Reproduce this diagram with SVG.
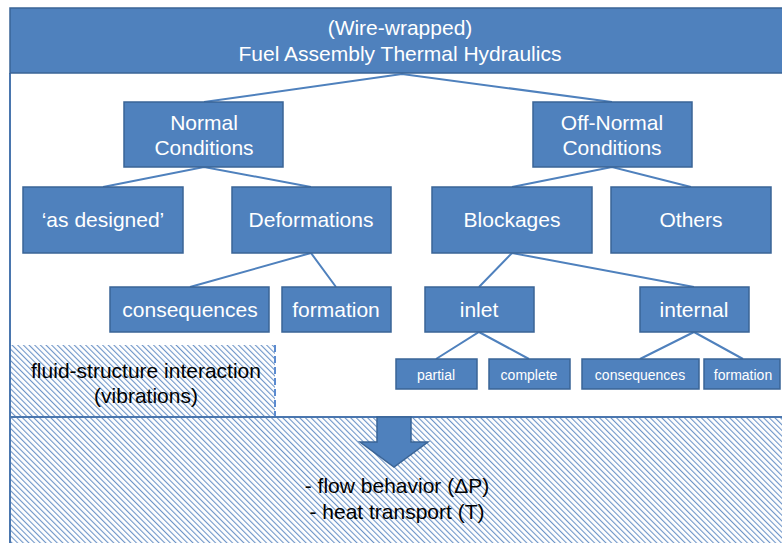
<svg xmlns="http://www.w3.org/2000/svg" width="782" height="543" viewBox="0 0 782 543">
<defs>
<pattern id="hatch" patternUnits="userSpaceOnUse" width="4" height="4" patternTransform="rotate(-45)">
<rect width="4" height="4" fill="#ffffff"/>
<line x1="0" y1="0" x2="0" y2="4" stroke="#6E95C8" stroke-width="2.2"/>
</pattern>
</defs>
<style>
.box{fill:#4F81BD;stroke:#3A6496;stroke-width:1.5}
.t{font-family:"Liberation Sans",Arial,sans-serif;fill:#ffffff;text-anchor:middle;font-size:21px}
.s{font-size:14px}
.k{font-family:"Liberation Sans",Arial,sans-serif;fill:#000000;text-anchor:middle;font-size:21px}
.c{stroke:#4F81BD;stroke-width:2;fill:none}
</style>
<rect width="782" height="543" fill="#ffffff"/>
<g id="background">
<rect x="10" y="345" width="265" height="72" fill="url(#hatch)"/>
<line x1="275" y1="345" x2="275" y2="417" stroke="#5B8BD0" stroke-width="2" stroke-dasharray="7,4"/>
<rect x="10" y="417" width="790" height="140" fill="url(#hatch)"/>
<line x1="10" y1="417" x2="790" y2="417" stroke="#4A76AE" stroke-width="2"/>
<line x1="10" y1="73" x2="10" y2="543" stroke="#4A76AE" stroke-width="2"/>
</g>
<g id="connectors">
<polyline class="c" points="204,102 402,74 612,102"/>
<polyline class="c" points="103,187 204,167 311,187"/>
<polyline class="c" points="512,187 612,167 691,187"/>
<polyline class="c" points="190,287 311,253 336,287"/>
<polyline class="c" points="479,287 512,253 694,287"/>
<polyline class="c" points="436,359 479,332 529,359"/>
<polyline class="c" points="640,359 694,332 743,359"/>
</g>
<g id="title">
<rect class="box" x="10" y="8" width="790" height="65"/>
<text class="t" x="400" y="35">(Wire-wrapped)</text>
<text class="t" x="400" y="61">Fuel Assembly Thermal Hydraulics</text>
</g>
<g id="normal">
<rect class="box" x="124" y="102" width="159" height="65"/>
<text class="t" x="204" y="130">Normal</text>
<text class="t" x="204" y="155">Conditions</text>
</g>
<g id="offnormal">
<rect class="box" x="533" y="102" width="159" height="65"/>
<text class="t" x="612" y="130">Off-Normal</text>
<text class="t" x="612" y="155">Conditions</text>
</g>
<g id="asdesigned">
<rect class="box" x="23" y="187" width="160" height="66"/>
<text class="t" x="103" y="227">‘as designed’</text>
</g>
<g id="deformations">
<rect class="box" x="232" y="187" width="159" height="66"/>
<text class="t" x="311" y="227">Deformations</text>
</g>
<g id="blockages">
<rect class="box" x="432" y="187" width="160" height="66"/>
<text class="t" x="512" y="227">Blockages</text>
</g>
<g id="others">
<rect class="box" x="611" y="187" width="160" height="66"/>
<text class="t" x="691" y="227">Others</text>
</g>
<g id="consequences">
<rect class="box" x="110" y="287" width="159" height="45"/>
<text class="t" x="190" y="317">consequences</text>
</g>
<g id="formation">
<rect class="box" x="282" y="287" width="109" height="45"/>
<text class="t" x="336" y="317">formation</text>
</g>
<g id="inlet">
<rect class="box" x="425" y="287" width="109" height="45"/>
<text class="t" x="479" y="317">inlet</text>
</g>
<g id="internal">
<rect class="box" x="640" y="287" width="109" height="45"/>
<text class="t" x="694" y="317">internal</text>
</g>
<g id="partial">
<rect class="box" x="396" y="359" width="81" height="30"/>
<text class="t s" x="436" y="380">partial</text>
</g>
<g id="complete">
<rect class="box" x="489" y="359" width="81" height="30"/>
<text class="t s" x="529" y="380">complete</text>
</g>
<g id="consequences2">
<rect class="box" x="582" y="359" width="117" height="30"/>
<text class="t s" x="640" y="380">consequences</text>
</g>
<g id="formation2">
<rect class="box" x="704" y="359" width="76" height="30"/>
<text class="t s" x="743" y="380">formation</text>
</g>
<g id="fsi">
<text class="k" x="146" y="378">fluid-structure interaction</text>
<text class="k" x="146" y="403">(vibrations)</text>
</g>
<g id="arrow">
<polygon points="377,417 411,417 411,442 428,442 394,467 360,442 377,442" fill="#4F81BD" stroke="#3A6496" stroke-width="1.5"/>
</g>
<g id="result">
<text class="k" x="397" y="493">- flow behavior (ΔP)</text>
<text class="k" x="397" y="519">- heat transport (T)</text>
</g>
</svg>
